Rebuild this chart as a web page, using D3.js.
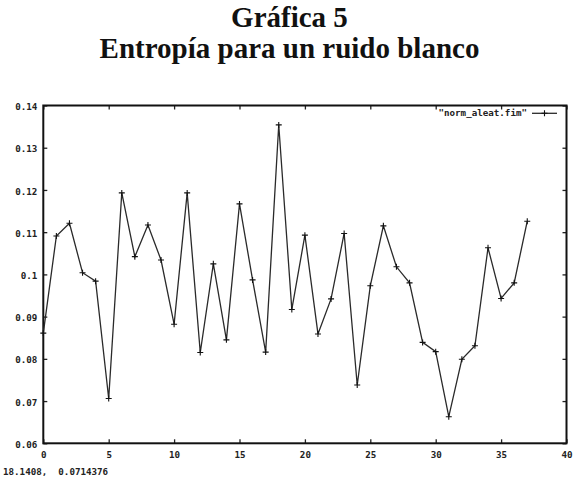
<!DOCTYPE html>
<html>
<head>
<meta charset="utf-8">
<script src="https://cdn.jsdelivr.net/npm/d3@7/dist/d3.min.js"></script>
<style>
    body { margin: 0; background: #fff; }
    svg { display: block; }
    .title { font-family: "Liberation Serif", "Times New Roman", serif; font-weight: bold; font-size: 29px; fill: #111; }
    .mono { font-family: "DejaVu Sans Mono", monospace; font-size: 9.2px; font-weight: bold; fill: #222; white-space: pre; }
</style>
</head>
<body>
<div id="chart"></div>
<script>
const [svgW, svgH] = [580, 482];
const MARGIN = {left: 43.3, right: 13.5, top: 105.5, bottom: 38.7};

// data
const titleLines = ['Gráfica 5', 'Entropía para un ruido blanco'];
const seriesName = '"norm_aleat.fim"';
const xIndex = d3.range(38);
const entropy = [
    0.0861, 0.1091, 0.1121, 0.1004, 0.0984, 0.0706, 0.1193, 0.1042, 0.1117, 0.1034,
    0.0882, 0.1193, 0.0815, 0.1025, 0.0845, 0.1167, 0.0987, 0.0816, 0.1354, 0.0917,
    0.1093, 0.0859, 0.0942, 0.1097, 0.0738, 0.0973, 0.1115, 0.1018, 0.0980, 0.0839,
    0.0817, 0.0663, 0.0799, 0.0831, 0.1063, 0.0943, 0.0980, 0.1126
];
const xTicks = [0, 5, 10, 15, 20, 25, 30, 35, 40];
const yTicks = [0.06, 0.07, 0.08, 0.09, 0.1, 0.11, 0.12, 0.13, 0.14];
const readout = '18.1408,  0.0714376';

const plotW = svgW - MARGIN.left - MARGIN.right;
const plotH = svgH - MARGIN.top - MARGIN.bottom;

const x = d3.scaleLinear().domain([0, 40]).range([0, plotW]);
const y = d3.scaleLinear().domain([0.06, 0.14]).range([plotH, 0]);

function renderTitle(svg) {
    svg.selectAll('text.title').data(titleLines).enter().append('text')
        .attr('class', 'title')
        .attr('text-anchor', 'middle')
        .attr('x', 289.5)
        .attr('y', function (d, i) { return 27 + i * 31; })
        .text(function (d) { return d; });
}

function renderAxes(g) {
    const fmt = function (d) { return String(+d.toFixed(2)); };

    // bottom + left with labels, top + right mirrored ticks only
    const bottom = g.append('g').attr('transform', 'translate(0,' + plotH + ')')
        .call(d3.axisBottom(x).tickValues(xTicks).tickSizeInner(-4).tickSizeOuter(0).tickPadding(8));
    const left = g.append('g')
        .call(d3.axisLeft(y).tickValues(yTicks).tickFormat(fmt).tickSizeInner(-4).tickSizeOuter(0).tickPadding(6));
    const top = g.append('g')
        .call(d3.axisTop(x).tickValues(xTicks).tickSizeInner(-4).tickSizeOuter(0).tickFormat(''));
    const right = g.append('g').attr('transform', 'translate(' + plotW + ',0)')
        .call(d3.axisRight(y).tickValues(yTicks).tickSizeInner(-4).tickSizeOuter(0).tickFormat(''));

    [bottom, left, top, right].forEach(function (a) {
        a.select('.domain').remove();
        a.selectAll('line').attr('stroke', '#222').attr('stroke-width', 1.3);
        a.selectAll('text').attr('class', 'mono').attr('font-family', null).attr('font-size', null).attr('fill', null);
    });
    left.selectAll('text').attr('dy', '0.45em');

    g.append('rect')
        .attr('width', plotW).attr('height', plotH)
        .attr('fill', 'none').attr('stroke', '#111').attr('stroke-width', 2);
}

function plusPath(cx, cy, s) {
    return 'M' + (cx - s) + ',' + cy + 'H' + (cx + s) + 'M' + cx + ',' + (cy - s) + 'V' + (cy + s);
}

function renderSeries(g) {
    const line = d3.line()
        .x(function (d, i) { return x(xIndex[i]); })
        .y(function (d) { return y(d); });

    g.append('path').datum(entropy)
        .attr('d', line)
        .attr('fill', 'none').attr('stroke', '#2a2a2a').attr('stroke-width', 1.3)
        .attr('stroke-linejoin', 'miter');

    g.append('g').selectAll('path').data(entropy).enter().append('path')
        .attr('d', function (d, i) { return plusPath(x(xIndex[i]), y(d), 3); })
        .attr('stroke', '#111').attr('stroke-width', 1.1);
}

function renderLegend(g) {
    const ly = 113.3 - MARGIN.top;
    const lx0 = 532 - MARGIN.left, lx1 = 557 - MARGIN.left;
    g.append('text').attr('class', 'mono')
        .attr('text-anchor', 'end')
        .attr('x', 527 - MARGIN.left).attr('y', ly + 3)
        .text(seriesName);
    g.append('line').attr('x1', lx0).attr('x2', lx1).attr('y1', ly).attr('y2', ly)
        .attr('stroke', '#2a2a2a').attr('stroke-width', 1.3);
    g.append('path').attr('d', plusPath((lx0 + lx1) / 2, ly, 3))
        .attr('stroke', '#111').attr('stroke-width', 1.1);
}

function main() {
    const svg = d3.select('#chart').append('svg').attr('width', svgW).attr('height', svgH);
    renderTitle(svg);

    const g = svg.append('g').attr('transform', 'translate(' + MARGIN.left + ',' + MARGIN.top + ')');
    renderAxes(g);
    renderSeries(g);
    renderLegend(g);

    svg.append('text').attr('class', 'mono').attr('x', 3).attr('y', 475).text(readout);
}

main();
</script>
</body>
</html>
